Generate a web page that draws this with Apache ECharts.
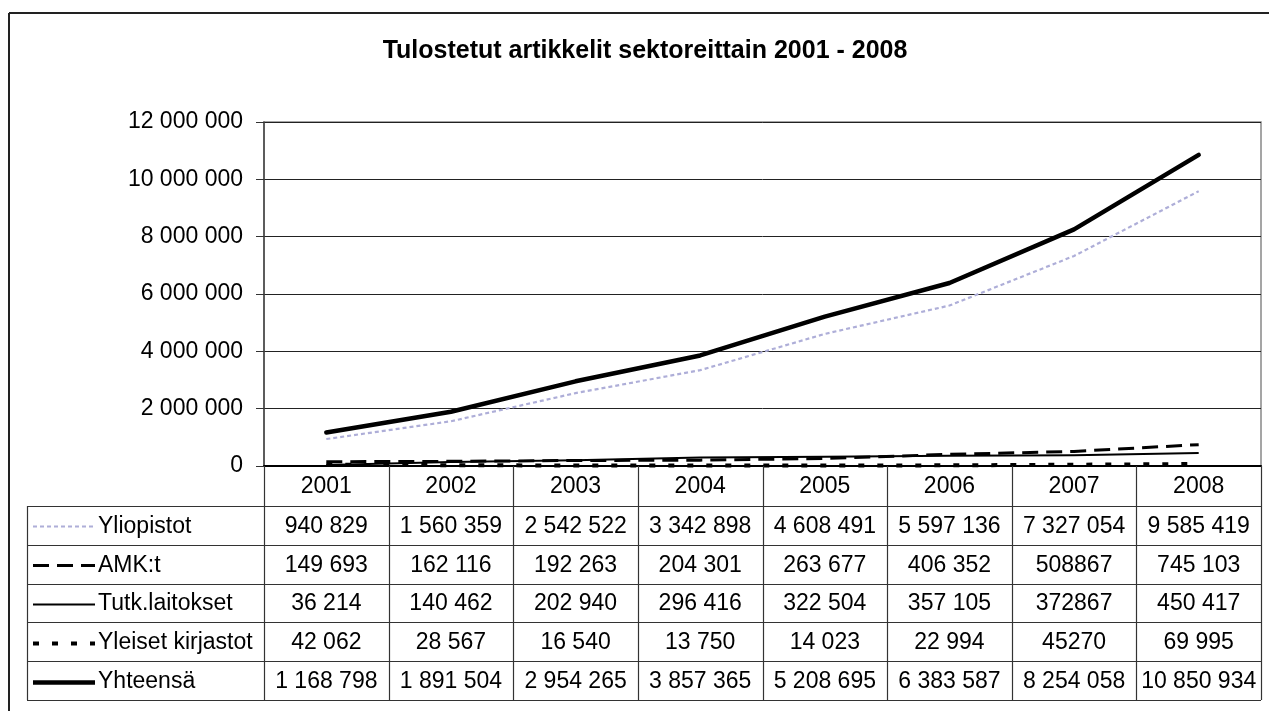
<!DOCTYPE html>
<html>
<head>
<meta charset="utf-8">
<script src="https://cdn.jsdelivr.net/npm/echarts@6/dist/echarts.min.js"></script>
<style>
html,body{margin:0;padding:0;background:#fff;}
#c{width:1269px;height:711px;}
</style>
</head>
<body>
<div id="c"></div>
<script>
const titleText = 'Tulostetut artikkelit sektoreittain 2001 - 2008';
const years = ['2001','2002','2003','2004','2005','2006','2007','2008'];
const seriesNames = ['Yliopistot','AMK:t','Tutk.laitokset','Yleiset kirjastot','Yhteensä'];
const yliopistot = [940829, 1560359, 2542522, 3342898, 4608491, 5597136, 7327054, 9585419];
const amk = [149693, 162116, 192263, 204301, 263677, 406352, 508867, 745103];
const tutk = [36214, 140462, 202940, 296416, 322504, 357105, 372867, 450417];
const yleiset = [42062, 28567, 16540, 13750, 14023, 22994, 45270, 69995];
const yhteensa = [1168798, 1891504, 2954265, 3857365, 5208695, 6383587, 8254058, 10850934];
// cells printed without thousands separator in the source table: [seriesIndex, yearIndex]
const unspacedCells = [[1,6],[2,6],[3,6]];
const yMin = 0, yMax = 12000000, yStep = 2000000;

const FONT = '"Liberation Sans", Arial, sans-serif';
const W = 1269, H = 711;
const G = {left:264, right:8, top:122, bottom:245};
const tableRowH = 38.8;
const tableLeft = 27;

function fmt(v, spaced){
  const s = String(v);
  if(!spaced) return s;
  return s.replace(/\B(?=(\d{3})+(?!\d))/g, ' ');
}

const styles = [
  {color:'#aeaed8', width:2.2, type:[4,3], cap:'butt'},
  {color:'#000', width:3, type:[16,8], cap:'butt'},
  {color:'#000', width:2, type:'solid', cap:'butt'},
  {color:'#000', width:4, type:[6,13], cap:'butt'},
  {color:'#000', width:4.5, type:'solid', cap:'round'}
];
const dataAll = [yliopistot, amk, tutk, yleiset, yhteensa];

const chart = echarts.init(document.getElementById('c'), null, {renderer:'canvas'});

const option = {
  animation:false,
  backgroundColor:'#fff',
  title:{
    text:titleText, left:640, textAlign:'center', top:34,
    textStyle:{fontFamily:FONT, fontSize:25, fontWeight:'bold', color:'#000'}
  },
  grid:{left:G.left, right:G.right, top:G.top, bottom:G.bottom, containLabel:false,
        show:true, borderColor:'#888', borderWidth:1.5, backgroundColor:'transparent'},
  xAxis:{
    type:'category', data:years, boundaryGap:true,
    axisLine:{show:true, lineStyle:{color:'#000', width:2}},
    axisTick:{show:false},
    axisLabel:{show:true, margin:9, fontFamily:FONT, fontSize:23, color:'#000'},
    splitLine:{show:false}
  },
  yAxis:{
    type:'value', min:yMin, max:yMax, interval:yStep,
    axisLine:{show:true, lineStyle:{color:'#444', width:1.5}},
    axisTick:{show:true, length:8, lineStyle:{color:'#333'}},
    axisLabel:{margin:21, fontFamily:FONT, fontSize:23, color:'#000',
      formatter:v=>fmt(v,true)},
    splitLine:{show:true, lineStyle:{color:'#222', width:1}}
  },
  series: seriesNames.map((n,i)=>({
    name:n, type:'line', data:dataAll[i], showSymbol:false, symbol:'none',
    lineStyle:{color:styles[i].color, width:styles[i].width, type:styles[i].type, cap:styles[i].cap, join:'round'},
    z: 2+i
  }))
};
chart.setOption(option);

// build data table under the plot
const gr = [];
const tTop = H - G.bottom;              // header row top (x axis)
const hdrBottom = tTop + 40;
const tBottom = hdrBottom + tableRowH*seriesNames.length;
const xL = G.left, xR = W - G.right;
const colW = (xR - xL)/years.length;
const lineStyle = {stroke:'#333', lineWidth:1.2};
function L(x1,y1,x2,y2,st){ gr.push({type:'line', silent:true, z:100, shape:{x1,y1,x2,y2}, style:Object.assign({}, lineStyle, st||{})}); }

// outer chart border
L(9, 13, W, 13, {stroke:'#222', lineWidth:2});
L(9, 13, 9, H, {stroke:'#222', lineWidth:2});

// vertical column lines
for(let k=0;k<=years.length;k++){
  const x = Math.round(xL + k*colW)+0.5;
  L(x, tTop, x, tBottom);
}
L(tableLeft+0.5, hdrBottom, tableLeft+0.5, tBottom);
// horizontal lines
for(let r=0;r<=seriesNames.length;r++){
  const y = Math.round(hdrBottom + r*tableRowH)+0.5;
  L(tableLeft, y, xR, y);
}
// rows
for(let r=0;r<seriesNames.length;r++){
  const yc = hdrBottom + r*tableRowH + tableRowH/2 + 1;
  const st = styles[r];
  gr.push({type:'line', silent:true, z:100,
    shape:{x1:33, y1:Math.round(yc)+0.5, x2:95, y2:Math.round(yc)+0.5},
    style:{stroke:st.color, lineWidth:st.width, lineDash: st.type==='solid'?null:st.type, lineCap:'butt'}});
  gr.push({type:'text', silent:true, z:100,
    style:{text:seriesNames[r], x:98, y:yc, textAlign:'left', textVerticalAlign:'middle', font:'23px '+FONT, fill:'#000'}});
  for(let c=0;c<years.length;c++){
    const xc = chart.convertToPixel({xAxisIndex:0}, c);
    const spaced = !unspacedCells.some(p=>p[0]===r && p[1]===c);
    gr.push({type:'text', silent:true, z:100,
      style:{text:fmt(dataAll[r][c], spaced), x:xc, y:yc, textAlign:'center', textVerticalAlign:'middle', font:'23px '+FONT, fill:'#000'}});
  }
}
chart.setOption({graphic:{elements:gr}});
</script>
</body>
</html>
